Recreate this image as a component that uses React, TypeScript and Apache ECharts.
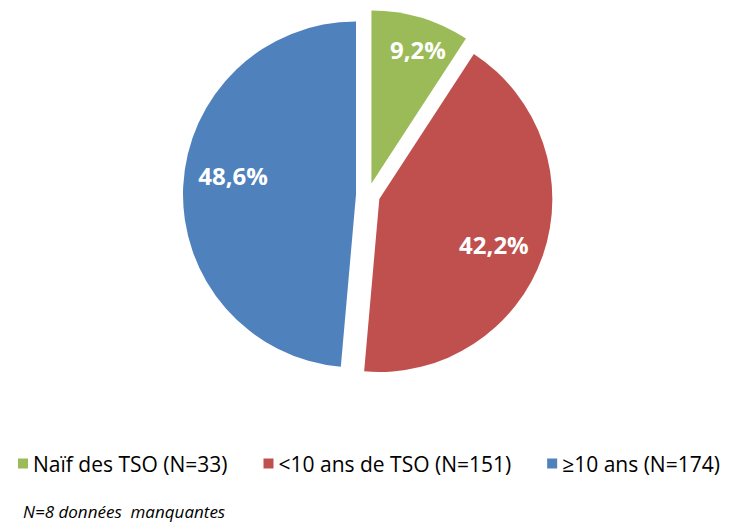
import React, { useEffect, useRef } from "react";
import * as echarts from "echarts";

const categories = ["Naïf des TSO (N=33)", "<10 ans de TSO (N=151)", "≥10 ans (N=174)"];
const values = [9.2, 42.2, 48.6];
const colors = ["#9BBB59", "#C0504D", "#4F81BD"];
const footnote = "N=8 données  manquantes";

// label nudges (px) relative to the default inside label position
const LABEL_DX = [21, 30, -33.5];
const LABEL_DY = [-48.6, 16.7, -14.6];

export default function App() {
  const ref = useRef<HTMLDivElement>(null);
  useEffect(() => {
    const chart = echarts.init(ref.current!, null, { renderer: "svg" });
    chart.setOption({
      animation: false,
      color: colors,
      legend: {
        bottom: 46,
        left: 13,
        icon: "rect",
        itemWidth: 10,
        itemHeight: 10,
        itemGap: 36,
        textStyle: { fontFamily: "Open Sans", fontSize: 21, color: "#000" },
        data: categories,
      },
      graphic: [
        {
          type: "text",
          left: 23,
          top: 503,
          style: {
            text: footnote,
            font: "italic 17px 'Open Sans'",
            fill: "#000",
          },
        },
      ],
      series: [
        {
          type: "pie",
          center: [368, 195],
          radius: [0, 173],
          startAngle: 90,
          clockwise: true,
          selectedMode: "multiple",
          selectedOffset: 12,
          silent: true,
          label: {
            show: true,
            position: "inside",
            formatter: (p: any) => p.value.toFixed(1).replace(".", ",") + "%",
            color: "#fff",
            fontFamily: "Open Sans",
            fontWeight: "bold",
            fontSize: 24,
          },
          labelLayout: (p: any) => ({
            dx: LABEL_DX[p.dataIndex],
            dy: LABEL_DY[p.dataIndex],
          }),
          labelLine: { show: false },
          data: categories.map((c, i) => ({
            name: c,
            value: values[i],
            selected: true,
            itemStyle: { color: colors[i] },
          })),
        },
      ],
    });
    return () => chart.dispose();
  }, []);
  return (
    <div
      ref={ref}
      style={{ position: "fixed", left: 0, top: 0, width: 733, height: 525, background: "#fff" }}
    />
  );
}
